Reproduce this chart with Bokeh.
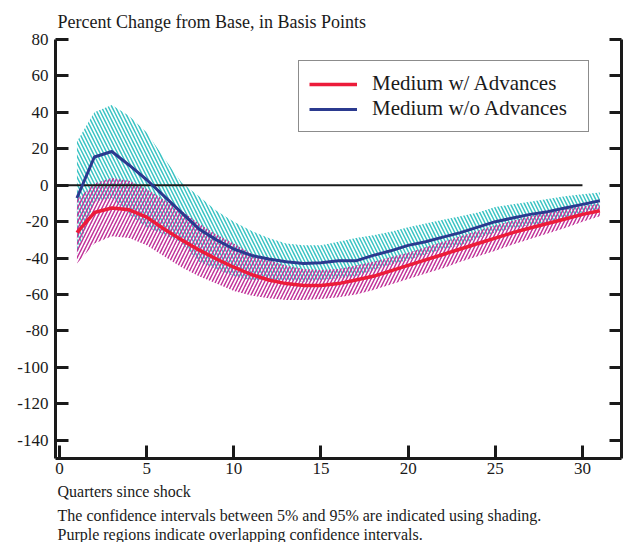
from bokeh.plotting import figure
from bokeh.models import (Range1d, LinearAxis, FixedTicker, Legend, LegendItem,
                          Title)
from bokeh.embed import file_html
from bokeh.resources import INLINE

# ---- data -------------------------------------------------------------
quarters = list(range(1, 32))

w_adv = [-26, -15, -12.5, -13.5, -17.5, -24, -30, -35.5, -40.5, -45, -49, -52,
         -54, -55, -55, -54, -52, -50, -47, -44, -41, -38, -35, -32, -29, -26,
         -23.5, -21, -18.5, -16, -14]
w_adv_hi = [-8, 1, 4, 2.5, -2, -8, -14, -21, -27, -32, -37.5, -41, -44, -46,
            -46.5, -46, -44, -42, -39.5, -37, -34, -31, -28, -25, -22, -19.5,
            -17, -15, -13, -11.5, -10]
w_adv_lo = [-43, -32, -28, -29, -33, -39, -45, -50, -54, -58, -60.5, -62, -63,
            -63, -62.5, -61.5, -60, -57.5, -54.5, -51.5, -48.5, -45.5, -42, -39,
            -36, -32.5, -29.5, -26.5, -23.5, -20, -17]

wo_adv = [-7, 15.5, 18.5, 11, 3, -6, -15, -24, -30, -35, -38.5, -40.5, -42,
          -43, -42.5, -41.5, -41.5, -38.5, -36, -33, -31, -28.5, -26, -23, -20,
          -18, -16, -14.5, -12.5, -10.5, -8.5]
wo_adv_hi = [24, 40, 44, 38, 29, 15, 1.5, -6, -14, -20, -25, -29, -32, -33, -33,
             -31, -29, -27.5, -25.5, -23, -21, -19, -17, -15, -12, -10.5, -9,
             -7.5, -6, -5, -4]
wo_adv_lo = [-38, -9, -7, -16, -23, -27, -31.5, -42, -46, -50, -52, -52, -52,
             -53, -52, -51, -50, -46.5, -43.5, -41, -38, -35, -33, -29, -26,
             -23.5, -22, -20.5, -18, -15, -13]

zero_x = [-0.23, 30]
zero_y = [0, 0]

x_ticks = [0, 5, 10, 15, 20, 25, 30]
y_ticks = [-140, -120, -100, -80, -60, -40, -20, 0, 20, 40, 60, 80]

title_text = "Percent Change from Base, in Basis Points"
notes = ["Quarters since shock",
         "The confidence intervals between 5% and 95% are indicated using shading.",
         "Purple regions indicate overlapping confidence intervals."]

# ---- styling ----------------------------------------------------------
SERIF = "Liberation Serif"
RED = "#ec1c3a"
BLUE = "#2b3a8f"
CYAN = "#3cc4c4"
MAGENTA = "#c2339a"
INK = "#1a1a1a"

p = figure(frame_width=566, frame_height=419,
           x_range=Range1d(-0.23, 32.24), y_range=Range1d(-150, 80),
           output_backend="svg", toolbar_location=None,
           min_border_left=55, min_border_right=3, min_border_top=39,
           min_border_bottom=0)
p.xgrid.visible = False
p.ygrid.visible = False
p.outline_line_color = None
p.background_fill_color = "white"

# title
p.title.text = title_text
p.title.text_font = SERIF
p.title.text_font_size = "18px"
p.title.text_font_style = "normal"
p.title.text_color = INK
p.title.align = "left"
p.title.offset = 2
p.title.standoff = 16

# confidence bands
p.varea(x=quarters, y1=wo_adv_lo, y2=wo_adv_hi, fill_alpha=0,
        hatch_pattern="\\", hatch_color=CYAN, hatch_scale=7, hatch_weight=1.5)
p.varea(x=quarters, y1=w_adv_lo, y2=w_adv_hi, fill_alpha=0,
        hatch_pattern="/", hatch_color=MAGENTA, hatch_scale=7, hatch_weight=1.5)

p.line(zero_x, zero_y, line_color=INK, line_width=2)

r_blue = p.line(quarters, wo_adv, line_color=BLUE, line_width=3)
r_red = p.line(quarters, w_adv, line_color=RED, line_width=3.5)

# axes
for ax in (p.xaxis[0], p.yaxis[0]):
    ax.axis_line_width = 3
    ax.axis_line_color = INK
    ax.major_tick_line_width = 3
    ax.major_tick_line_color = INK
    ax.major_tick_in = 13
    ax.major_tick_out = 0
    ax.minor_tick_line_color = None
    ax.major_label_text_font = SERIF
    ax.major_label_text_font_size = "17px"
    ax.major_label_text_color = INK

p.xaxis[0].ticker = FixedTicker(ticks=x_ticks)
p.yaxis[0].ticker = FixedTicker(ticks=y_ticks)
p.yaxis[0].major_label_overrides = {v: str(v) for v in y_ticks}
p.xaxis[0].major_label_standoff = 4
p.yaxis[0].major_label_standoff = 7

ry = LinearAxis(ticker=FixedTicker(ticks=y_ticks))
ry.axis_line_width = 3
ry.axis_line_color = INK
ry.major_tick_line_width = 3
ry.major_tick_line_color = INK
ry.major_tick_in = 12
ry.major_tick_out = 0
ry.minor_tick_line_color = None
ry.major_label_text_font_size = "1px"
ry.major_label_text_color = None
ry.major_label_text_alpha = 0
ry.major_label_standoff = 0
p.add_layout(ry, "right")

# legend
legend = Legend(items=[LegendItem(label="Medium w/ Advances", renderers=[r_red]),
                       LegendItem(label="Medium w/o Advances", renderers=[r_blue])],
                location=(243, 326), orientation="vertical",
                label_text_font=SERIF, label_text_font_size="21px",
                label_text_color=INK,
                glyph_width=48, glyph_height=18, label_standoff=15,
                label_width=206, padding=10, spacing=0, margin=0,
                border_line_color=INK, border_line_width=1.5,
                background_fill_color="white", background_fill_alpha=1)
p.add_layout(legend, "center")

# notes below
for i, t in enumerate(notes):
    tt = Title(text=t, align="left", offset=2, text_font=SERIF,
               text_font_size="16px", text_font_style="normal",
               text_color=INK, standoff=(9 if i == 0 else 0))
    p.add_layout(tt, "below")

open("out.html", "w").write(file_html(p, INLINE))
